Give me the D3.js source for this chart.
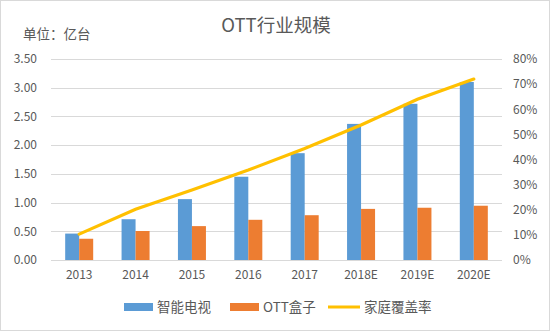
<!DOCTYPE html>
<html>
<head>
<meta charset="utf-8">
<script src="https://cdn.jsdelivr.net/npm/d3@7"></script>
<style>
  body { margin: 0; background: #fff; }
  text { font-family: "Noto Sans CJK SC", "Noto Sans", sans-serif; fill: #595959; }
</style>
</head>
<body>
<svg id="chart" width="550" height="331"></svg>
<script>
// data
var years = ["2013", "2014", "2015", "2016", "2017", "2018E", "2019E", "2020E"];
var smartTv = [0.46, 0.71, 1.06, 1.45, 1.86, 2.37, 2.72, 3.10];
var ottBox = [0.37, 0.505, 0.59, 0.70, 0.78, 0.89, 0.91, 0.945];
var coverage = [0.103, 0.202, 0.279, 0.358, 0.444, 0.537, 0.64, 0.72];
var leftTicks = [0, 0.5, 1, 1.5, 2, 2.5, 3, 3.5];
var rightTicks = [0, 0.1, 0.2, 0.3, 0.4, 0.5, 0.6, 0.7, 0.8];
var seriesNames = ["智能电视", "OTT盒子", "家庭覆盖率"];
var colors = ["#5B9BD5", "#ED7D31", "#FFC000"];

var svg = d3.select("#chart");
// plot area edges (window.top is reserved, so prefixed names)
var plotLeft = 51, plotRight = 502, plotTop = 59, plotBottom = 260;

svg.append("rect")
  .attr("x", 0.5).attr("y", 0.5)
  .attr("width", 549).attr("height", 330)
  .attr("fill", "#fff").attr("stroke", "#D9D9D9");

var x = d3.scaleBand().domain(years).range([plotLeft, plotRight]);
var y = d3.scaleLinear().domain([0, 3.5]).range([plotBottom, plotTop]);
var y2 = d3.scaleLinear().domain([0, 0.8]).range([plotBottom, plotTop]);
var barW = 14;

// grid lines
svg.append("g").selectAll("line")
  .data(leftTicks)
  .enter().append("line")
    .attr("x1", plotLeft).attr("x2", plotRight)
    .attr("y1", function(d){ return Math.round(y(d)) + 0.5; })
    .attr("y2", function(d){ return Math.round(y(d)) + 0.5; })
    .attr("stroke", "#D9D9D9").attr("stroke-width", 1);

// left axis
var leftAxis = svg.append("g")
  .attr("transform", "translate(" + plotLeft + ",0)")
  .call(d3.axisLeft(y).tickValues(leftTicks).tickFormat(d3.format(".2f")).tickSize(0).tickPadding(14));
leftAxis.select(".domain").remove();
leftAxis.selectAll("text").attr("font-size", 12).attr("fill", "#595959");

// right axis
var rightAxis = svg.append("g")
  .attr("transform", "translate(" + plotRight + ",0)")
  .call(d3.axisRight(y2).tickValues(rightTicks).tickFormat(d3.format(".0%")).tickSize(0).tickPadding(11));
rightAxis.select(".domain").remove();
rightAxis.selectAll("text").attr("font-size", 12).attr("fill", "#595959");

// category axis
var bottomAxis = svg.append("g")
  .attr("transform", "translate(0," + plotBottom + ")")
  .call(d3.axisBottom(x).tickSize(0).tickPadding(10));
bottomAxis.select(".domain").remove();
bottomAxis.selectAll("text").attr("font-size", 12).attr("fill", "#595959");

// bars
svg.append("g").selectAll("rect")
  .data(smartTv)
  .enter().append("rect")
    .attr("x", function(d, i){ return x(years[i]) + x.bandwidth() / 2 - barW; })
    .attr("y", function(d){ return y(d); })
    .attr("width", barW)
    .attr("height", function(d){ return plotBottom - y(d); })
    .attr("fill", colors[0]);

svg.append("g").selectAll("rect")
  .data(ottBox)
  .enter().append("rect")
    .attr("x", function(d, i){ return x(years[i]) + x.bandwidth() / 2; })
    .attr("y", function(d){ return y(d); })
    .attr("width", barW)
    .attr("height", function(d){ return plotBottom - y(d); })
    .attr("fill", colors[1]);

// coverage line
var line = d3.line()
  .x(function(d, i){ return x(years[i]) + x.bandwidth() / 2; })
  .y(function(d){ return y2(d); });
svg.append("path")
  .datum(coverage)
  .attr("d", line)
  .attr("fill", "none")
  .attr("stroke", colors[2])
  .attr("stroke-width", 3.2)
  .attr("stroke-linecap", "round");

// titles
svg.append("text")
  .attr("x", 276).attr("y", 32)
  .attr("text-anchor", "middle")
  .attr("font-size", 18.5)
  .text("OTT行业规模");

svg.append("text")
  .attr("x", 23).attr("y", 39)
  .attr("font-size", 13.5)
  .attr("fill", "#404040")
  .text("单位：亿台");

// legend
var legendX = [124, 230, 328];
var legend = svg.append("g").selectAll("g")
  .data(seriesNames)
  .enter().append("g")
    .attr("transform", function(d, i){ return "translate(" + legendX[i] + ",307)"; });
legend.append("rect")
  .attr("x", 0)
  .attr("y", function(d, i){ return i < 2 ? -4 : -1.5; })
  .attr("width", function(d, i){ return i < 2 ? 29 : 32; })
  .attr("height", function(d, i){ return i < 2 ? 8 : 3; })
  .attr("fill", function(d, i){ return colors[i]; });
legend.append("text")
  .attr("x", function(d, i){ return i < 2 ? 33 : 36; })
  .attr("y", 5)
  .attr("font-size", 13.5)
  .text(function(d){ return d; });
</script>
</body>
</html>
